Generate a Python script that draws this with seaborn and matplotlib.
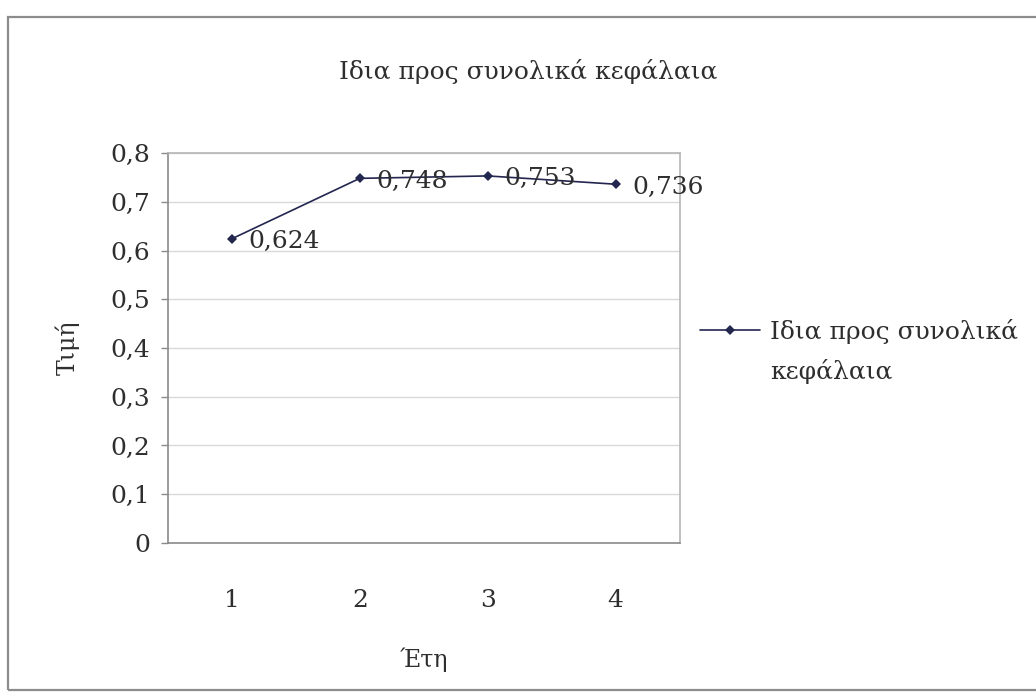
import matplotlib
matplotlib.use("Agg")
import matplotlib.pyplot as plt
from matplotlib.patches import Rectangle
from matplotlib.ticker import FuncFormatter, MultipleLocator
import seaborn as sns
import pandas as pd

# Equity to total capital ratio per year
years = [1, 2, 3, 4]
ratio = [0.624, 0.748, 0.753, 0.736]
series_name = "Ιδια προς συνολικά"
series_name_cont = "κεφάλαια"
title = "Ιδια προς συνολικά κεφάλαια"
x_label = "Έτη"
y_label = "Τιμή"

sns.set_theme(style="white")
plt.rcParams["font.family"] = ["DejaVu Serif", "Liberation Serif"]

df = pd.DataFrame({"year": [str(y) for y in years], "value": ratio})

W, H = 1036, 693
fig = plt.figure(figsize=(W / 100, H / 100), dpi=100)
ax = fig.add_axes([0.162, 0.2165, 0.494, 0.5627])

text_color = "#2e2e2e"
line_color = "#23264f"
sns.lineplot(data=df, x="year", y="value", ax=ax, color=line_color,
             marker="D", markersize=5.5, linewidth=1.2, markeredgewidth=0,
             label=series_name, sort=False)

ax.set_xlim(-0.5, len(years) - 0.5)
ax.set_ylim(0, 0.8)
ax.yaxis.set_major_locator(MultipleLocator(0.1))
ax.yaxis.set_major_formatter(
    FuncFormatter(lambda v, _: "0" if abs(v) < 1e-9 else f"{v:.1f}".replace(".", ",")))
ax.grid(axis="y", color="#d9d9d9", linewidth=1.0)
ax.set_axisbelow(True)

for side in ["top", "right"]:
    ax.spines[side].set_color("#b5b5b5")
    ax.spines[side].set_linewidth(1.2)
for side in ["left", "bottom"]:
    ax.spines[side].set_color("#8a8a8a")
    ax.spines[side].set_linewidth(1.2)

ax.tick_params(axis="y", which="major", left=True, length=5, width=1,
               color="#8a8a8a", labelsize=18, labelcolor=text_color, pad=8)
ax.tick_params(axis="x", bottom=False, labelsize=18, labelcolor=text_color, pad=27)

ax.set_xlabel(x_label, fontsize=17, color=text_color, labelpad=26)
ax.set_ylabel(y_label, fontsize=17, color=text_color, labelpad=22)

# value labels to the right of each point
for i, v in enumerate(ratio):
    ax.annotate(f"{v:.3f}".replace(".", ","), xy=(i, v), xytext=(12, -2),
                textcoords="offset points", ha="left", va="center",
                fontsize=18, color=text_color)

fig.text(528 / W, 1 - 72 / H, title, ha="center", va="center",
         fontsize=18, color=text_color)

leg = ax.legend(loc="center left", bbox_to_anchor=(700 / W, 1 - 331 / H),
                bbox_transform=fig.transFigure, frameon=False, borderpad=0,
                borderaxespad=0, fontsize=18, handlelength=2.4,
                handletextpad=0.4, labelcolor=text_color)

# second line of the legend entry, aligned under the first
fig.canvas.draw()
bb = leg.get_texts()[0].get_window_extent().transformed(fig.transFigure.inverted())
fig.text(bb.x0, bb.y0 + (bb.y1 - bb.y0) / 2 - 40 / H, series_name_cont,
         ha="left", va="center", fontsize=18, color=text_color)

# chart area border
fig.patches.append(Rectangle((8 / W, 3 / H), 1.2, 1 - 20 / H,
                             transform=fig.transFigure, fill=False,
                             edgecolor="#8c8c8c", linewidth=1.6))

fig.savefig("out.png", dpi=100)
